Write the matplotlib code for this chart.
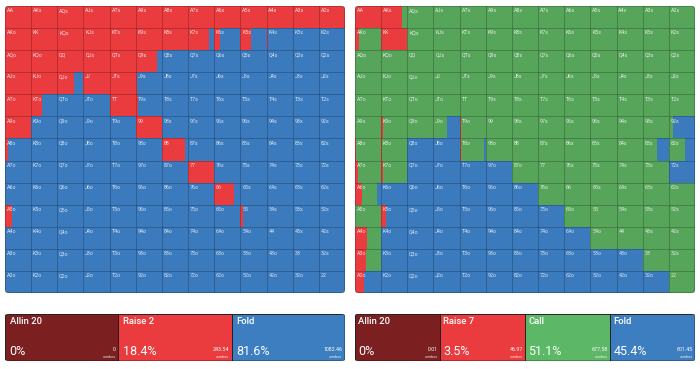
import numpy as np
import matplotlib.pyplot as plt
from matplotlib.patches import FancyBboxPatch

plt.rcParams['font.family'] = ['Roboto', 'DejaVu Sans']

RANKS = "AKQJT98765432"

# left chart: frequency of "Raise 2" per hand, the rest folds
raise2 = [
    [1, 1, 1, 1, 1, 1, 1, 1, 1, 1, 1, 1, 1],
    [1, 1, 1, 1, 1, 1, 1, 0.8, 0.22, 0.4, 0.05, 0, 0],
    [1, 1, 1, 1, 1, 0.8, 0, 0, 0, 0, 0, 0, 0],
    [1, 1, 0.65, 1, 1, 0.05, 0, 0, 0, 0, 0, 0, 0],
    [1, 0.4, 0, 0, 1, 0.1, 0, 0, 0, 0, 0, 0, 0],
    [1, 0, 0, 0, 0, 1, 0, 0, 0, 0, 0, 0, 0],
    [0.1, 0, 0, 0, 0, 0, 0.9, 0, 0, 0, 0, 0, 0],
    [0, 0, 0, 0, 0, 0, 0, 1, 0, 0, 0, 0, 0],
    [0, 0, 0, 0, 0, 0, 0, 0, 0.75, 0, 0, 0, 0],
    [0.28, 0, 0, 0, 0, 0, 0, 0, 0, 0.1, 0, 0, 0],
    [0, 0, 0, 0, 0, 0, 0, 0, 0, 0, 0, 0, 0],
    [0, 0, 0, 0, 0, 0, 0, 0, 0, 0, 0, 0, 0],
    [0, 0, 0, 0, 0, 0, 0, 0, 0, 0, 0, 0, 0],
]

# right chart: "Raise 7" and "Call" frequencies, the rest folds
raise7 = [
    [1, 0.8, 0, 0, 0, 0, 0, 0, 0, 0, 0, 0, 0],
    [0.17, 1, 0, 0, 0, 0, 0, 0, 0, 0, 0, 0, 0],
    [0, 0, 0, 0, 0, 0, 0, 0, 0, 0, 0, 0, 0],
    [0, 0, 0, 0, 0, 0, 0, 0, 0, 0, 0, 0, 0],
    [0, 0, 0, 0, 0, 0, 0, 0, 0, 0, 0, 0, 0],
    [0, 0.06, 0, 0, 0.05, 0, 0, 0, 0, 0, 0, 0, 0],
    [0.05, 0.05, 0, 0, 0.05, 0, 0, 0, 0, 0, 0, 0, 0],
    [0.12, 0.06, 0, 0, 0, 0, 0, 0, 0, 0, 0, 0, 0],
    [0.26, 0, 0, 0, 0, 0, 0, 0, 0, 0, 0, 0, 0],
    [0, 0.2, 0, 0, 0, 0, 0, 0, 0, 0, 0, 0, 0],
    [0.45, 0, 0, 0, 0, 0, 0, 0, 0, 0, 0, 0, 0],
    [0.42, 0, 0, 0, 0, 0, 0, 0, 0, 0, 0, 0, 0],
    [0.33, 0, 0, 0, 0, 0, 0, 0, 0, 0, 0, 0, 0],
]
call7 = [
    [0, 0.2, 1, 1, 1, 1, 1, 1, 1, 1, 1, 1, 1],
    [0.83, 0, 1, 1, 1, 1, 1, 1, 1, 1, 1, 1, 1],
    [1, 1, 1, 1, 1, 1, 1, 1, 1, 1, 1, 1, 1],
    [1, 1, 1, 1, 1, 1, 1, 1, 1, 1, 1, 1, 1],
    [1, 1, 1, 1, 1, 1, 1, 1, 1, 1, 1, 1, 1],
    [1, 0.94, 1, 0.5, 0.95, 1, 1, 1, 1, 1, 1, 1, 0.15],
    [0.95, 0.95, 0, 0, 0.9, 1, 1, 1, 1, 1, 1, 0.55, 0.6],
    [0.88, 0.94, 0, 0, 0, 0, 1, 1, 1, 1, 1, 1, 0],
    [0.58, 0, 0, 0, 0, 0, 0, 1, 1, 1, 1, 1, 1],
    [1, 0, 0, 0, 0, 0, 0, 0, 1, 1, 1, 1, 1],
    [0.55, 0, 0, 0, 0, 0, 0, 0, 0, 1, 1, 1, 1],
    [0.58, 0, 0, 0, 0, 0, 0, 0, 0, 0, 0, 1, 1],
    [0, 0, 0, 0, 0, 0, 0, 0, 0, 0, 0, 0, 1],
]

left_names = ["Allin 20", "Raise 2", "Fold"]
left_pct = ["0%", "18.4%", "81.6%"]
left_combos = ["0", "243.54", "1082.46"]

right_names = ["Allin 20", "Raise 7", "Call", "Fold"]
right_pct = ["0%", "3.5%", "51.1%", "45.4%"]
right_combos = ["0.01", "46.97", "677.58", "601.45"]

ALLIN = '#7b1f21'
RAISE = '#ea3b3f'
CALL = '#57a45b'
FOLD = '#3a7abd'
CALL_BOX = '#5cb866'
FOLD_BOX = '#3d7ec1'


def hand(i, j):
    if i == j:
        return RANKS[i] * 2
    if j > i:
        return RANKS[i] + RANKS[j] + "s"
    return RANKS[j] + RANKS[i] + "o"


def draw_grid(ax, layers):
    ax.set_xlim(0, 13)
    ax.set_ylim(13, 0)
    ax.axis('off')
    clip = FancyBboxPatch((0, 0), 13, 13, boxstyle="round,pad=0,rounding_size=0.18",
                          transform=ax.transData, fc='none', ec=(0, 0, 0, 0.35), lw=0.8, zorder=5)
    ax.add_patch(clip)
    rows, cols = np.indices((13, 13))
    start = np.zeros((13, 13))
    for mat, color in layers:
        m = np.asarray(mat, dtype=float)
        bars = ax.barh(rows.ravel() + 0.5, m.ravel(), left=(cols + start).ravel(),
                       height=1, color=color, lw=0)
        for b in bars:
            b.set_clip_path(clip)
        start += m
    for k in range(1, 13):
        ax.axhline(k, color='k', alpha=0.22, lw=0.7, zorder=3)
        ax.axvline(k, color='k', alpha=0.22, lw=0.7, zorder=3)
    for i in range(13):
        for j in range(13):
            ax.text(j + 0.07, i + 0.1, hand(i, j), fontsize=3.8, color='white', alpha=0.8,
                    ha='left', va='top', zorder=4)


def draw_summary(ax, names, pct, combos, colors):
    n = len(names)
    ax.set_xlim(0, n)
    ax.set_ylim(0, 1)
    ax.axis('off')
    clip = FancyBboxPatch((0, 0), n, 1, boxstyle="round,pad=0,rounding_size=0.05",
                          transform=ax.transData, fc='none', ec=(0, 0, 0, 0.5), lw=0.7, zorder=5)
    ax.add_patch(clip)
    bars = ax.bar(np.arange(n), 1, width=1, align='edge', color=colors, edgecolor='#1a1a1a', lw=0.6)
    for b in bars:
        b.set_clip_path(clip)
    for k in range(n):
        ax.text(k + 0.04, 0.83, names[k], fontsize=6.8, color='white', fontweight='medium',
                ha='left', va='center')
        ax.text(k + 0.04, 0.2, pct[k], fontsize=9, color='white', ha='left', va='center')
        ax.text(k + 0.975, 0.25, combos[k], fontsize=3.8, color='white', ha='right', va='center')
        ax.text(k + 0.975, 0.09, "combos", fontsize=2.6, color='white', alpha=0.85,
                ha='right', va='center')


W, H = 700, 369
fig = plt.figure(figsize=(7, 3.69), dpi=100)
fig.set_facecolor('w')

ax_l = fig.add_axes([5 / W, (H - 293) / H, 340 / W, 287 / H])
raise2_arr = np.array(raise2)
draw_grid(ax_l, [(raise2_arr, RAISE), (1 - raise2_arr, FOLD)])

ax_r = fig.add_axes([355 / W, (H - 293) / H, 340 / W, 287 / H])
r7 = np.array(raise7)
c7 = np.array(call7)
draw_grid(ax_r, [(r7, RAISE), (c7, CALL), (np.clip(1 - r7 - c7, 0, 1), FOLD)])

ax_sl = fig.add_axes([5 / W, (H - 361) / H, 340 / W, 47 / H])
draw_summary(ax_sl, left_names, left_pct, left_combos, [ALLIN, RAISE, FOLD_BOX])

ax_sr = fig.add_axes([355 / W, (H - 361) / H, 340 / W, 47 / H])
draw_summary(ax_sr, right_names, right_pct, right_combos, [ALLIN, RAISE, CALL_BOX, FOLD_BOX])

fig.savefig("out.png", dpi=100)
